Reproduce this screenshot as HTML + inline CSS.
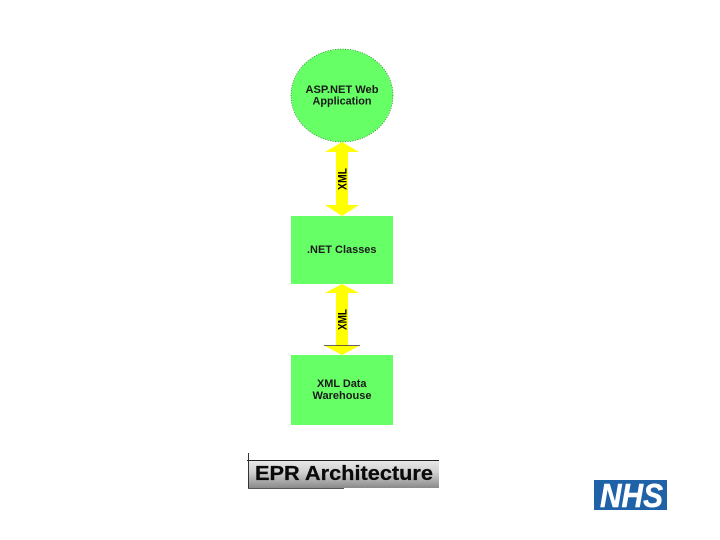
<!DOCTYPE html>
<html>
<head>
<meta charset="utf-8">
<style>
html,body{margin:0;padding:0;background:#fff}
svg{display:block}
text{font-family:"Liberation Sans",Arial,sans-serif}
</style>
</head>
<body>
<svg width="720" height="540" viewBox="0 0 720 540" xmlns="http://www.w3.org/2000/svg">
<defs>
<linearGradient id="g" x1="0" y1="0" x2="0" y2="1">
<stop offset="0" stop-color="#eaeaea"/>
<stop offset="0.45" stop-color="#cfcfcf"/>
<stop offset="1" stop-color="#8a8a8a"/>
</linearGradient>
</defs>
<rect width="720" height="540" fill="#fff"/>
<ellipse cx="342" cy="95.5" rx="51" ry="46.5" fill="#66ff66" stroke="#1c5a1c" stroke-width="0.6" stroke-dasharray="1 1.5"/>
<rect x="291" y="216" width="102" height="68" fill="#66ff66"/>
<rect x="291" y="355" width="102" height="70" fill="#66ff66"/>
<polygon points="342,142 359,152 348,152 348,205 359,205 342,216 325,205 336,205 336,152 325,152" fill="#ffff00"/>
<polygon points="342,284 359,293 348,293 348,346 359,346 342,355 325,346 336,346 336,293 325,293" fill="#ffff00"/>
<line x1="324" y1="345.5" x2="360" y2="345.5" stroke="#333" stroke-width="0.8"/>
<g font-weight="bold" font-size="11" fill="#1a1a1a" lengthAdjust="spacingAndGlyphs">
<text x="305.5" y="93" textLength="73" lengthAdjust="spacingAndGlyphs">ASP.NET Web</text>
<text x="312.5" y="104.5" textLength="59" lengthAdjust="spacingAndGlyphs">Application</text>
<text x="307" y="253" textLength="69.5" lengthAdjust="spacingAndGlyphs">.NET Classes</text>
<text x="317" y="387" textLength="49.5" lengthAdjust="spacingAndGlyphs">XML Data</text>
<text x="312.5" y="399" textLength="59" lengthAdjust="spacingAndGlyphs">Warehouse</text>
</g>
<text transform="translate(346.5,190) rotate(-90)" font-weight="bold" font-size="12" fill="#000" textLength="22" lengthAdjust="spacingAndGlyphs">XML</text>
<text transform="translate(346.5,330) rotate(-90)" font-weight="bold" font-size="12" fill="#000" textLength="21" lengthAdjust="spacingAndGlyphs">XML</text>
<rect x="249" y="460" width="190" height="28" fill="url(#g)"/>
<line x1="247" y1="460.5" x2="439" y2="460.5" stroke="#222" stroke-width="1"/>
<line x1="248.5" y1="453" x2="248.5" y2="488" stroke="#333" stroke-width="1"/>
<line x1="248" y1="488.5" x2="344" y2="488.5" stroke="#555" stroke-width="1"/>
<text x="255" y="480" font-weight="bold" font-size="20.2" fill="#0a0a0a" stroke="#0a0a0a" stroke-width="0.25" textLength="178" lengthAdjust="spacingAndGlyphs">EPR Architecture</text>
<rect x="594" y="480" width="73" height="30" fill="#1f62a8"/>
<text x="600" y="507" font-weight="bold" font-style="italic" font-size="33" fill="#fff" stroke="#fff" stroke-width="0.5" textLength="63" lengthAdjust="spacingAndGlyphs">NHS</text>
</svg>
</body>
</html>
